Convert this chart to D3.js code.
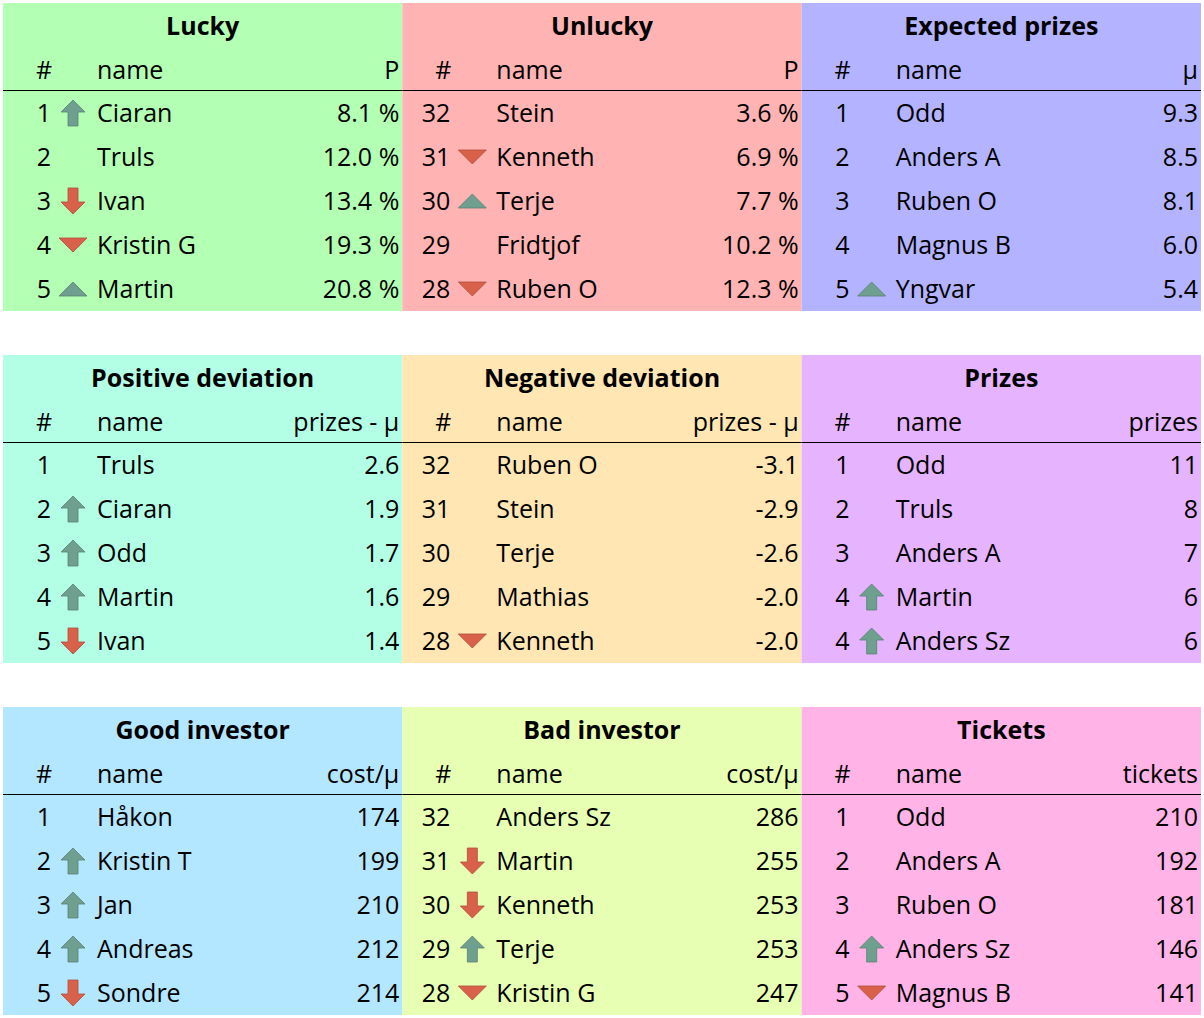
<!DOCTYPE html>
<html><head><meta charset="utf-8">
<script src="https://cdn.jsdelivr.net/npm/d3@7"></script>
<style>body{margin:0;background:#fff}text{font-family:"Open Sans",sans-serif}</style>
</head><body>
<svg id="chart" width="1204" height="1018"></svg>
<script>
// panel titles, value headers, colours
const titles = ["Lucky", "Unlucky", "Expected prizes", "Positive deviation", "Negative deviation", "Prizes", "Good investor", "Bad investor", "Tickets"];
const valueHeads = ["P", "P", "μ", "prizes - μ", "prizes - μ", "prizes", "cost/μ", "cost/μ", "tickets"];
const colors = ["#b3ffb3", "#ffb3b3", "#b3b3ff", "#b3ffe6", "#ffe6b3", "#e6b3ff", "#b3e6ff", "#e6ffb3", "#ffb3e6"];

// U = arrow up, D = arrow down, u = triangle up, d = triangle down
const ranks = [
  [1, 2, 3, 4, 5], [32, 31, 30, 29, 28], [1, 2, 3, 4, 5],
  [1, 2, 3, 4, 5], [32, 31, 30, 29, 28], [1, 2, 3, 4, 4],
  [1, 2, 3, 4, 5], [32, 31, 30, 29, 28], [1, 2, 3, 4, 5]
];
const names = [
  ["Ciaran", "Truls", "Ivan", "Kristin G", "Martin"],
  ["Stein", "Kenneth", "Terje", "Fridtjof", "Ruben O"],
  ["Odd", "Anders A", "Ruben O", "Magnus B", "Yngvar"],
  ["Truls", "Ciaran", "Odd", "Martin", "Ivan"],
  ["Ruben O", "Stein", "Terje", "Mathias", "Kenneth"],
  ["Odd", "Truls", "Anders A", "Martin", "Anders Sz"],
  ["Håkon", "Kristin T", "Jan", "Andreas", "Sondre"],
  ["Anders Sz", "Martin", "Kenneth", "Terje", "Kristin G"],
  ["Odd", "Anders A", "Ruben O", "Anders Sz", "Magnus B"]
];
const values = [
  ["8.1 %", "12.0 %", "13.4 %", "19.3 %", "20.8 %"],
  ["3.6 %", "6.9 %", "7.7 %", "10.2 %", "12.3 %"],
  ["9.3", "8.5", "8.1", "6.0", "5.4"],
  ["2.6", "1.9", "1.7", "1.6", "1.4"],
  ["-3.1", "-2.9", "-2.6", "-2.0", "-2.0"],
  ["11", "8", "7", "6", "6"],
  ["174", "199", "210", "212", "214"],
  ["286", "255", "253", "253", "247"],
  ["210", "192", "181", "146", "141"]
];
const trends = [
  ["U", "", "D", "d", "u"],
  ["", "d", "u", "", "d"],
  ["", "", "", "", "u"],
  ["", "U", "U", "U", "D"],
  ["", "", "", "", "d"],
  ["", "", "", "U", "U"],
  ["", "U", "U", "U", "D"],
  ["", "D", "D", "U", "d"],
  ["", "", "", "U", "d"]
];

const svg = d3.select("#chart");
const px = d3.scaleBand().domain([0, 1, 2]).range([3, 1201]);
const py = d3.scaleBand().domain([0, 1, 2]).range([3, 1015]).paddingInner(0.125).paddingOuter(0);
const ry = d3.scaleBand().domain(d3.range(5)).range([90, 310]);
const green = "#6f9f8f", red = "#d9614a";

function icon(g, t) {
  if (!t) return;
  const p = t === "U" ? "M0,-13 L-12,-1 L-5,-1 L-5,13 L5,13 L5,-1 L12,-1 Z"
    : t === "D" ? "M0,13 L-12,1 L-5,1 L-5,-13 L5,-13 L5,1 L12,1 Z"
    : t === "u" ? "M-14,7 L0,-7 L14,7 Z" : "M-14,-7 L0,7 L14,-7 Z";
  const c = (t === "U" || t === "u") ? green : red;
  g.append("path").attr("d", p).attr("fill", c).attr("stroke", d3.color(c).darker(0.6)).attr("stroke-width", 0.8);
}

titles.forEach((title, i) => {
  const g = svg.append("g").attr("transform", `translate(${px(i % 3)},${py(Math.floor(i / 3))})`);
  const w = px.bandwidth();
  g.append("rect").attr("width", w).attr("height", py.bandwidth()).attr("fill", colors[i]);
  g.append("text").attr("x", w / 2).attr("y", 32).attr("text-anchor", "middle")
    .attr("font-size", 25).attr("font-weight", "bold").text(title);
  const hy = 76, fs = 25;
  g.append("text").attr("x", 41).attr("y", hy).attr("text-anchor", "middle").attr("font-size", fs).text("#");
  g.append("text").attr("x", 94).attr("y", hy).attr("font-size", fs).text("name");
  g.append("text").attr("x", w - 3).attr("y", hy).attr("text-anchor", "end").attr("font-size", fs).text(valueHeads[i]);
  g.append("line").attr("x1", 0).attr("x2", w).attr("y1", 87.5).attr("y2", 87.5).attr("stroke", "#000").attr("stroke-width", 1.2);
  d3.range(5).forEach(r => {
    const cy = ry(r) + ry.bandwidth() / 2 - 2;
    g.append("text").attr("x", 48).attr("y", cy + 9).attr("text-anchor", "end")
      .attr("font-size", fs).text(ranks[i][r]);
    icon(g.append("g").attr("transform", `translate(70,${cy})`), trends[i][r]);
    g.append("text").attr("x", 94).attr("y", cy + 9).attr("font-size", fs).text(names[i][r]);
    g.append("text").attr("x", w - 3).attr("y", cy + 9).attr("text-anchor", "end").attr("font-size", fs).text(values[i][r]);
  });
});
</script>
</body></html>
